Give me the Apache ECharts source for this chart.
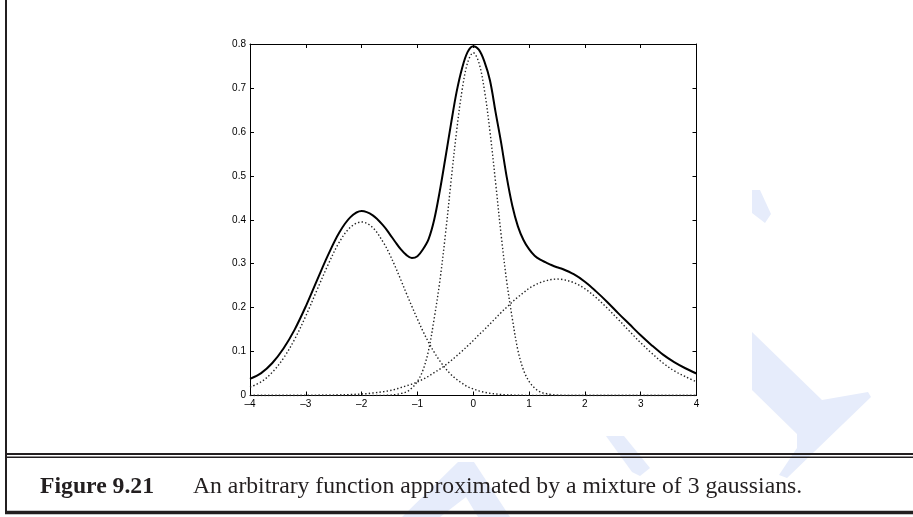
<!DOCTYPE html>
<html><head><meta charset="utf-8">
<script src="https://cdn.jsdelivr.net/npm/echarts@6/dist/echarts.min.js"></script>
<style>html,body{margin:0;padding:0;background:#fff}#c{width:913px;height:517px}</style>
</head><body><div id="c"></div><script>
const xs = [-4.0,-3.8,-3.6,-3.4,-3.2,-3.0,-2.8,-2.6,-2.4,-2.2,-2.0,-1.8,
  -1.6,-1.5,-1.4,-1.3,-1.2,-1.1,-1.0,-0.9,-0.8,-0.7,-0.6,-0.5,-0.4,-0.3,-0.2,-0.1,0,
  0.1,0.2,0.3,0.4,0.5,0.6,0.7,0.8,0.9,1.0,1.1,1.2,1.3,1.4,1.5,1.6,
  1.8,2.0,2.2,2.4,2.6,2.8,3.0,3.2,3.4,3.6,3.8,4.0];
const targetFn = [0.038,0.051,0.074,0.107,0.150,0.203,0.262,0.320,0.371,0.406,0.420,0.410,
  0.385,0.368,0.350,0.333,0.320,0.313,0.317,0.333,0.356,0.400,0.465,0.540,0.617,0.690,0.745,0.782,0.795,
  0.787,0.760,0.717,0.645,0.575,0.497,0.432,0.385,0.354,0.333,0.318,0.309,0.303,0.297,0.292,0.288,
  0.276,0.259,0.237,0.213,0.187,0.162,0.137,0.114,0.093,0.076,0.062,0.050];
const gauss1 = [0.019,0.031,0.053,0.085,0.128,0.181,0.240,0.298,0.349,0.383,0.395,0.382,
  0.346,0.322,0.294,0.264,0.233,0.203,0.174,0.146,0.121,0.0985,0.079,0.062,0.048,0.037,0.028,0.020,0.015,
  0.0105,0.0074,0.0051,0.0035,0.0023,0.0015,0.001,0.0006,0.0004,0.0002,0.0001,0.0001,0,0,0,0,
  0,0,0,0,0,0,0,0,0,0,0,0];
const gauss2 = [0,0,0,0,0,0,0,0,0,0,0,0,
  0.0003,0.0008,0.002,0.0045,0.008,0.017,0.032,0.058,0.103,0.175,0.259,0.365,0.485,0.600,0.695,0.758,0.780,
  0.758,0.695,0.600,0.485,0.365,0.259,0.175,0.103,0.058,0.032,0.017,0.008,0.0045,0.002,0.0008,0.0003,
  0,0,0,0,0,0,0,0,0,0,0,0];
const gauss3 = [0,0,0,0.0001,0.0001,0.0002,0.0004,0.0007,0.0012,0.0021,0.0035,0.0057,
  0.0089,0.011,0.014,0.018,0.022,0.026,0.031,0.037,0.044,0.052,0.060,0.069,0.079,0.090,0.101,0.113,0.125,
  0.138,0.150,0.163,0.176,0.189,0.201,0.213,0.224,0.234,0.244,0.251,0.257,0.261,0.264,0.265,0.264,
  0.257,0.243,0.223,0.199,0.173,0.146,0.120,0.096,0.074,0.056,0.043,0.031];
const xTickLabels = ['\u20134','\u20133','\u20132','\u20131','0','1','2','3','4'];
const yTickLabels = ['0','0.1','0.2','0.3','0.4','0.5','0.6','0.7','0.8'];
const captionLabel = 'Figure 9.21';
const captionText = 'An arbitrary function approximated by a mixture of 3 gaussians.';

const pair = arr => xs.map((x, i) => [x, arr[i]]);
const ink = '#231f20';
const tickFont = {color: '#000', fontFamily: '"Liberation Sans", Arial, sans-serif', fontSize: 10};
const baseX = {type: 'value', min: -4, max: 4, interval: 1, splitLine: {show: false},
  axisLine: {show: true, onZero: false, lineStyle: {color: '#000', width: 1}},
  axisTick: {show: true, inside: true, length: 4, lineStyle: {color: '#000', width: 1}}};
const baseY = {type: 'value', min: 0, max: 0.8, interval: 0.1, splitLine: {show: false},
  axisLine: {show: true, onZero: false, lineStyle: {color: '#000', width: 1}},
  axisTick: {show: true, inside: true, length: 4, lineStyle: {color: '#000', width: 1}}};
const dotted = {color: '#222', width: 1.4, type: [1.4, 2.2]};
const wm = '#e6ecfb';

const chart = echarts.init(document.getElementById('c'), null, {renderer: 'canvas'});
chart.setOption({
  animation: false,
  backgroundColor: '#fff',
  grid: {left: 250, right: 216.5, top: 44, bottom: 121.5, containLabel: false},
  xAxis: [
    Object.assign({}, baseX, {position: 'bottom', axisLabel: Object.assign({margin: 4, formatter: v => xTickLabels[Math.round(v) + 4]}, tickFont)}),
    Object.assign({}, baseX, {position: 'top', axisLabel: {show: false}})
  ],
  yAxis: [
    Object.assign({}, baseY, {position: 'left', axisLabel: Object.assign({margin: 4, formatter: v => yTickLabels[Math.round(v * 10)]}, tickFont)}),
    Object.assign({}, baseY, {position: 'right', axisLabel: {show: false}})
  ],
  series: [
    {type: 'line', data: pair(gauss1), smooth: 0.35, showSymbol: false, lineStyle: dotted, z: 2},
    {type: 'line', data: pair(gauss2), smooth: 0.35, showSymbol: false, lineStyle: dotted, z: 2},
    {type: 'line', data: pair(gauss3), smooth: 0.35, showSymbol: false, lineStyle: dotted, z: 2},
    {type: 'line', data: pair(targetFn), smooth: 0.35, showSymbol: false, lineStyle: {color: '#000', width: 2}, z: 3}
  ],
  graphic: [
    {type: 'polygon', z: -10, silent: true, shape: {points: [[752,190],[760,190],[771,214],[765,223],[752,213]]}, style: {fill: wm}},
    {type: 'polygon', z: -10, silent: true, shape: {points: [[752,332],[822,400],[868,392],[871,397],[787,478],[779,475],[797,448],[797,434],[752,390]]}, style: {fill: wm}},
    {type: 'polygon', z: -10, silent: true, shape: {points: [[606,436],[624,436],[650,468],[640,476],[632,472]]}, style: {fill: wm}},
    {type: 'polygon', z: -10, silent: true, shape: {points: [[402,517],[458,462],[474,462],[510,517],[478,517],[466,497],[440,517]]}, style: {fill: wm}},
    {type: 'rect', z: 50, shape: {x: 5, y: 0, width: 2, height: 514}, style: {fill: ink}},
    {type: 'rect', z: 50, shape: {x: 5, y: 453, width: 908, height: 2}, style: {fill: ink}},
    {type: 'rect', z: 50, shape: {x: 5, y: 456.5, width: 908, height: 1.6}, style: {fill: ink}},
    {type: 'rect', z: 50, shape: {x: 5, y: 510.8, width: 908, height: 3.5}, style: {fill: ink}},
    {type: 'text', z: 50, x: 40, y: 487, style: {text: captionLabel, font: 'bold 23.7px "Liberation Serif", "Times New Roman", serif', fill: ink, verticalAlign: 'middle'}},
    {type: 'text', z: 50, x: 193, y: 487, style: {text: captionText, font: '23.7px "Liberation Serif", "Times New Roman", serif', fill: ink, verticalAlign: 'middle'}}
  ]
});
</script></body></html>
